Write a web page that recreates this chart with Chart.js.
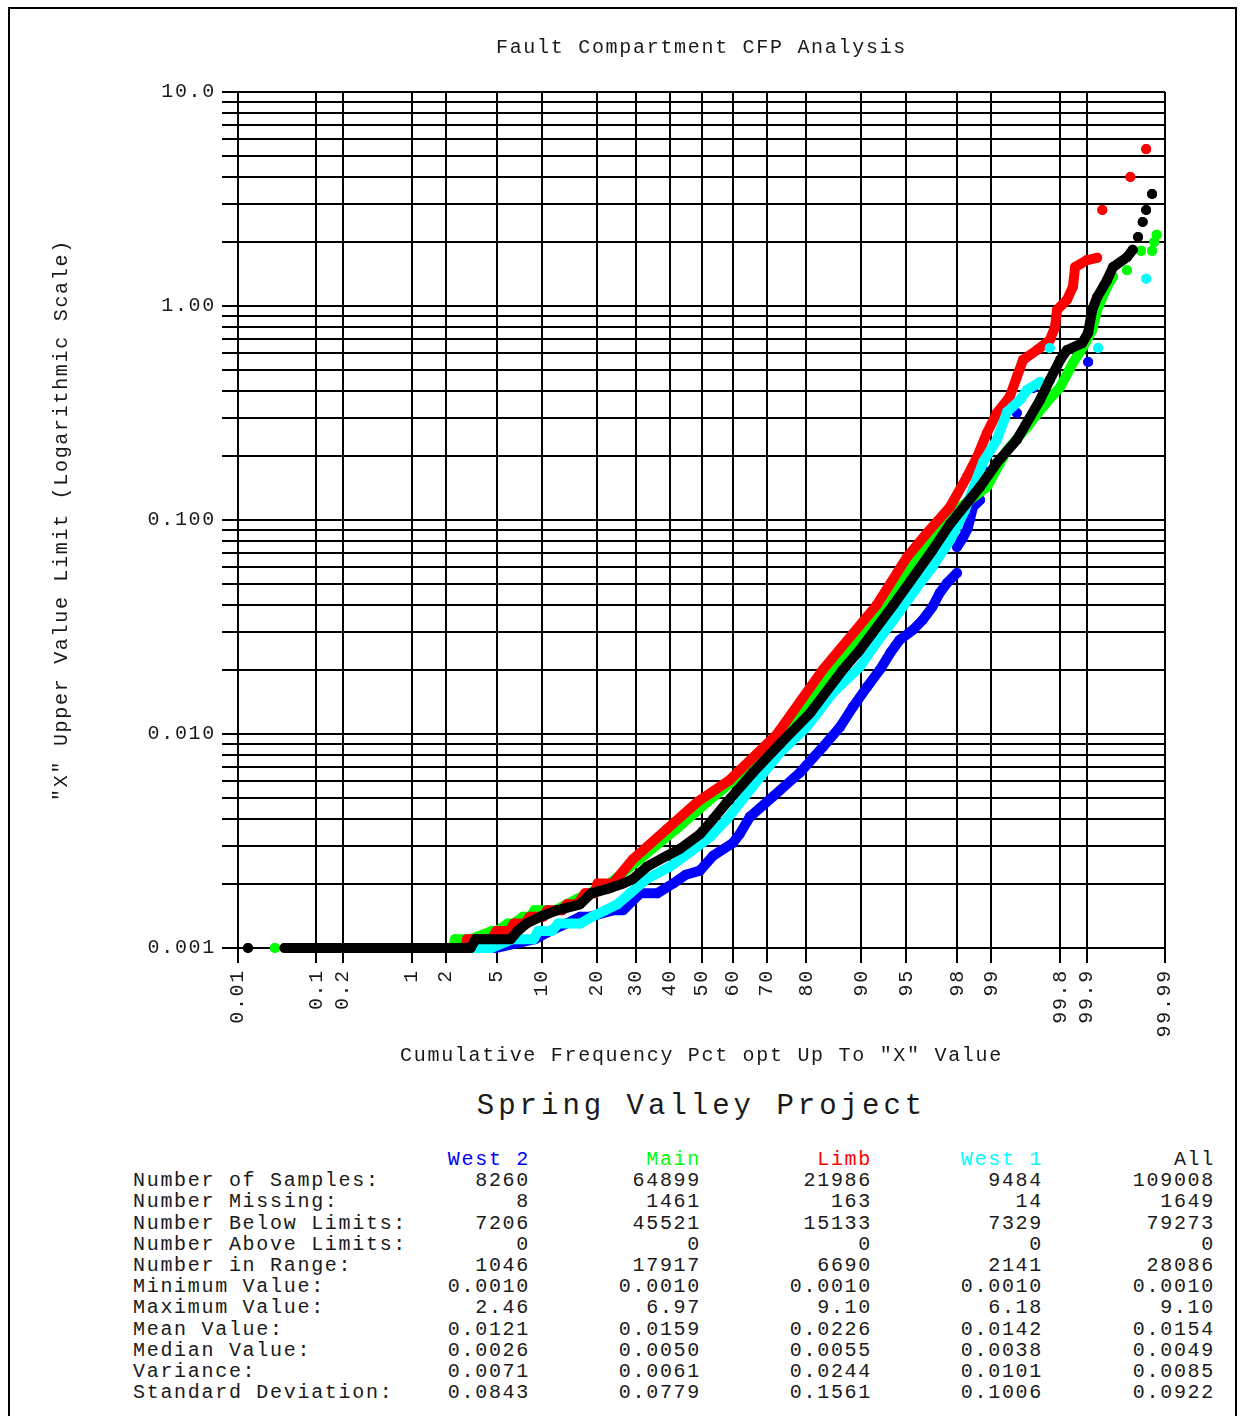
<!DOCTYPE html>
<html>
<head>
<meta charset="utf-8">
<title>Fault Compartment CFP Analysis</title>
<script src="https://cdn.jsdelivr.net/npm/chart.js@4.4.1/dist/chart.umd.min.js"></script>
<style>
  html, body { margin: 0; padding: 0; background: #fff; overflow: hidden; }
  body { width: 1243px; height: 1416px; position: relative;
         font-family: 'Liberation Mono', 'DejaVu Sans Mono', monospace; color: #1a1a1a; }
  #frame { position: absolute; left: 8px; top: 7px; width: 1225px; height: 1440px; border: 2px solid #000; }
  #cfp { position: absolute; left: 0; top: 0; }
  #project { position: absolute; left: 238px; width: 927px; top: 1089px; text-align: center;
             font-size: 29px; line-height: 35px; letter-spacing: 4px; white-space: pre; }
  .col { position: absolute; top: 1149px; font-size: 20px; line-height: 21.2px;
         letter-spacing: 1.7px; white-space: pre; }
  .num { text-align: right; width: 220px; }
</style>
</head>
<body>
<div id="frame"></div>
<canvas id="cfp" width="1243" height="1075"></canvas>
<div id="project">Spring Valley Project</div>
<div id="stats"></div>

<script>
// ── Data (x = cumulative frequency %, y = value; null = break in the trace) ──
const xTickPcts   = [0.01, 0.1, 0.2, 1, 2, 5, 10, 20, 30, 40, 50, 60, 70, 80, 90, 95, 98, 99, 99.8, 99.9, 99.99];
const xTickLabels = ['0.01', '0.1', '0.2', '1', '2', '5', '10', '20', '30', '40', '50', '60', '70', '80', '90', '95', '98', '99', '99.8', '99.9', '99.99'];
const yLabelValues = [0.001, 0.01, 0.1, 1, 10];
const yLabels      = ['0.001', '0.010', '0.100', '1.00', '10.0'];

const westTwoPts = [
  [0.07, 0.001], [4.9, 0.001], [9.1, 0.0011], [11.2, 0.0012], [13.9, 0.0013], [16.5, 0.0014],
  [18.5, 0.0014], [23.9, 0.0015], [26.4, 0.0015], [31.1, 0.0018], [36.1, 0.0018], [41.0, 0.0020],
  [45.0, 0.0022], [49.5, 0.0023], [53.7, 0.0027], [60.0, 0.0031], [62.0, 0.0034], [65.1, 0.0041],
  [71.7, 0.0051], [78.5, 0.0066], [83.5, 0.0087], [86.7, 0.0108], [88.8, 0.0134], [90.8, 0.0166],
  [92.4, 0.020], [93.5, 0.0239], [94.4, 0.0275], [95.5, 0.0306], [96.2, 0.0341], [96.8, 0.0392],
  [97.2, 0.0456], [97.56, 0.0508], [97.98, 0.0565], null,
  [97.98, 0.0748], [98.20, 0.0824], [98.37, 0.0918], [98.53, 0.115], [98.73, 0.124], null,
  [98.81, 0.171], null, [99.43, 0.316], null, [99.61, 0.414], null, [99.904, 0.547]
];
const mainPts = [
  [0.031, 0.001], null,
  [0.045, 0.001], [2.3, 0.001], [2.4, 0.0011], [3.2, 0.0011], [4.6, 0.0012], [5.0, 0.0012],
  [6.0, 0.0013], [6.6, 0.0013], [7.6, 0.0014], [8.5, 0.0014], [9.0, 0.0015], [12.0, 0.0015],
  [16.0, 0.0017], [23.0, 0.0020], [31.0, 0.0026], [42.0, 0.0036], [51.8, 0.0048], [64.0, 0.0068],
  [75.4, 0.010], [85.2, 0.020], [93.2, 0.040], [96.0, 0.070], [97.4, 0.10], [98.90, 0.143],
  [99.29, 0.212], [99.55, 0.272], [99.69, 0.337], [99.80, 0.418], [99.856, 0.542], [99.890, 0.643],
  [99.914, 0.773], [99.925, 0.958], [99.943, 1.23], [99.952, 1.37], null,
  [99.968, 1.47], null, [99.979, 1.81], null, [99.985, 1.81], null, [99.986, 1.99], null, [99.987, 2.15]
];
const limbPts = [
  [0.058, 0.001], [2.9, 0.001], [3.0, 0.0011], [4.6, 0.0011], [5.0, 0.0012], [6.2, 0.0012],
  [6.6, 0.0013], [7.8, 0.0013], [8.4, 0.0014], [10.2, 0.0014], [10.8, 0.0015], [13.2, 0.0015],
  [14.0, 0.0016], [16.0, 0.0016], [17.5, 0.0018], [19.5, 0.0018], [20.2, 0.0020], [23.8, 0.0020],
  [29.1, 0.0026], [39.1, 0.0036], [48.6, 0.0048], [59.0, 0.0061], [72.8, 0.010], [83.5, 0.020],
  [92.0, 0.040], [95.04, 0.0671], [96.48, 0.087], [97.69, 0.115], [98.34, 0.159], [98.65, 0.197],
  [98.90, 0.255], [99.11, 0.316], [99.33, 0.376], [99.43, 0.466], [99.506, 0.560], [99.645, 0.623],
  [99.74, 0.693], [99.772, 0.797], [99.783, 0.958], [99.832, 1.07], [99.856, 1.23], [99.864, 1.52],
  [99.901, 1.64], [99.925, 1.68], null,
  [99.935, 2.81], null, [99.971, 4.01], null, [99.982, 5.41]
];
const westOnePts = [
  [0.06, 0.001], [4.6, 0.001], [6.5, 0.0011], [8.9, 0.0011], [9.5, 0.0012], [11.5, 0.0012],
  [12.5, 0.0013], [16.5, 0.0013], [19.0, 0.0014], [22.0, 0.0015], [25.0, 0.0016], [28.3, 0.0018],
  [33.0, 0.0021], [40.0, 0.0024], [46.3, 0.0028], [52.7, 0.0033], [58.1, 0.0040], [66.0, 0.0057],
  [73.6, 0.0082], [80.1, 0.0108], [85.4, 0.0156], [89.8, 0.0206], [91.6, 0.0255], [93.8, 0.034],
  [95.5, 0.0456], [96.8, 0.0603], [97.7, 0.0806], [98.27, 0.111], [98.81, 0.187], [99.11, 0.237],
  [99.29, 0.320], [99.47, 0.364], [99.55, 0.405], [99.67, 0.442], null,
  [99.74, 0.637], null, [99.927, 0.637], null, [99.982, 1.34]
];
const allPts = [
  [0.0137, 0.001], null,
  [0.041, 0.001], [3.2, 0.001], [3.5, 0.0011], [6.3, 0.0011], [7.0, 0.0012], [8.0, 0.0013],
  [9.8, 0.0014], [12.3, 0.0015], [16.5, 0.0016], [18.8, 0.0018], [23.0, 0.0019], [26.5, 0.0020],
  [29.1, 0.0021], [33.1, 0.0024], [39.1, 0.0027], [43.1, 0.0029], [49.5, 0.0034], [53.7, 0.0040],
  [58.1, 0.0048], [66.0, 0.0066], [73.6, 0.0090], [80.8, 0.0125], [87.2, 0.020], [89.8, 0.0247],
  [93.8, 0.040], [96.8, 0.072], [97.7, 0.096], [98.73, 0.143], [99.11, 0.185], [99.43, 0.237],
  [99.67, 0.364], [99.74, 0.451], [99.80, 0.560], [99.832, 0.623], [99.887, 0.67], [99.904, 0.75],
  [99.914, 0.958], [99.925, 1.10], [99.943, 1.32], [99.952, 1.52], [99.968, 1.69], [99.973, 1.83], null,
  [99.977, 2.10], null, [99.980, 2.47], null, [99.982, 2.81], null, [99.985, 3.34]
];

// ── Statistics table ─────────────────────────────────────────
const statLabels = ['Number of Samples:', 'Number Missing:', 'Number Below Limits:', 'Number Above Limits:',
  'Number in Range:', 'Minimum Value:', 'Maximum Value:', 'Mean Value:', 'Median Value:', 'Variance:',
  'Standard Deviation:'];
const seriesNames  = ['West 2', 'Main', 'Limb', 'West 1', 'All'];
const seriesColors = ['#0000ff', '#00ff00', '#ff0000', '#00ffff', '#000000'];
const westTwoStats = ['8260', '8', '7206', '0', '1046', '0.0010', '2.46', '0.0121', '0.0026', '0.0071', '0.0843'];
const mainStats    = ['64899', '1461', '45521', '0', '17917', '0.0010', '6.97', '0.0159', '0.0050', '0.0061', '0.0779'];
const limbStats    = ['21986', '163', '15133', '0', '6690', '0.0010', '9.10', '0.0226', '0.0055', '0.0244', '0.1561'];
const westOneStats = ['9484', '14', '7329', '0', '2141', '0.0010', '6.18', '0.0142', '0.0038', '0.0101', '0.1006'];
const allStats     = ['109008', '1649', '79273', '0', '28086', '0.0010', '9.10', '0.0154', '0.0049', '0.0085', '0.0922'];

const statCols  = [westTwoStats, mainStats, limbStats, westOneStats, allStats];
const colRights = [530, 701, 872, 1043, 1215];

const stats = document.getElementById('stats');
const labelCol = document.createElement('div');
labelCol.className = 'col';
labelCol.style.left = '133px';
labelCol.textContent = '\n' + statLabels.join('\n');
stats.appendChild(labelCol);
statCols.forEach((vals, i) => {
  const col = document.createElement('div');
  col.className = 'col num';
  col.style.left = (colRights[i] - 220) + 'px';
  const head = document.createElement('span');
  head.style.color = seriesColors[i] === '#000000' ? '#1a1a1a' : seriesColors[i];
  head.textContent = seriesNames[i];
  col.appendChild(head);
  col.appendChild(document.createTextNode('\n' + vals.join('\n')));
  stats.appendChild(col);
});

// ── Probability (normal quantile) axis ───────────────────────
function probit(pct) {
  const p = pct / 100;
  const a = [-39.69683028665376, 220.9460984245205, -275.9285104469687, 138.3577518672690, -30.66479806614716, 2.506628277459239];
  const b = [-54.47609879822406, 161.5858368580409, -155.6989798598866, 66.80131188771972, -13.28068155288572];
  const c = [-0.007784894002430293, -0.3223964580411365, -2.400758277161838, -2.549732539343734, 4.374664141464968, 2.938163982698783];
  const d = [0.007784695709041462, 0.3224671290700398, 2.445134137142996, 3.754408661907416];
  const tail = q => (((((c[0]*q + c[1])*q + c[2])*q + c[3])*q + c[4])*q + c[5]) /
                    ((((d[0]*q + d[1])*q + d[2])*q + d[3])*q + 1);
  if (p < 0.02425) return tail(Math.sqrt(-2 * Math.log(p)));
  if (p > 1 - 0.02425) return -tail(Math.sqrt(-2 * Math.log(1 - p)));
  const q = p - 0.5, r = q * q;
  return (((((a[0]*r + a[1])*r + a[2])*r + a[3])*r + a[4])*r + a[5]) * q /
         (((((b[0]*r + b[1])*r + b[2])*r + b[3])*r + b[4])*r + 1);
}

class ProbitScale extends Chart.LinearScale {
  determineDataLimits() {
    this.min = probit(this.options.min);
    this.max = probit(this.options.max);
  }
  buildTicks() {
    return xTickPcts.map(v => ({ value: v }));
  }
  getPixelForValue(value) {
    if (value === null || value === undefined || isNaN(value)) return NaN;
    return super.getPixelForValue(probit(value));
  }
}
ProbitScale.id = 'probit';
ProbitScale.defaults = {};
Chart.register(ProbitScale);

// ── Chart setup ──────────────────────────────────────────────
const FONT = "'Liberation Mono', 'DejaVu Sans Mono', monospace";
const INK = '#1a1a1a';

const yTickValues = [];
[0.001, 0.01, 0.1, 1].forEach(dec => {
  for (let k = 1; k <= 9; k++) yTickValues.push(+(k * dec).toPrecision(3));
});
yTickValues.push(10);

const toXY = pts => pts.map((p, i) => p ? { x: p[0], y: p[1] } : { x: pts[i - 1][0], y: null });

const makeSet = (label, pts, color, order) => ({
  label,
  data: toXY(pts),
  showLine: true,
  spanGaps: false,
  borderColor: color,
  backgroundColor: color,
  borderWidth: 10,
  borderCapStyle: 'round',
  borderJoinStyle: 'round',
  pointRadius: 5,
  pointBorderWidth: 0,
  pointHoverRadius: 0,
  pointHitRadius: 0,
  clip: false,
  order,
});

const letterSpacing = {
  id: 'letterSpacing',
  beforeDraw(chart) { chart.ctx.letterSpacing = '1.7px'; },
};

const gridStyle = { color: '#000', lineWidth: 2, tickColor: '#000', tickWidth: 2 };

new Chart(document.getElementById('cfp'), {
  type: 'scatter',
  data: {
    datasets: [
      makeSet('West 2', westTwoPts, seriesColors[0], 4),
      makeSet('Main', mainPts, seriesColors[1], 3),
      makeSet('Limb', limbPts, seriesColors[2], 2),
      makeSet('West 1', westOnePts, seriesColors[3], 1),
      makeSet('All', allPts, seriesColors[4], 0),
    ],
  },
  options: {
    responsive: false,
    animation: false,
    events: [],
    layout: { padding: { left: 50, right: 78, top: 0, bottom: 0 } },
    scales: {
      x: {
        type: 'probit',
        min: 0.01,
        max: 99.99,
        afterFit: s => { s.height = 127; },
        ticks: {
          autoSkip: false, minRotation: 90, maxRotation: 90, padding: 6, color: INK,
          font: { family: FONT, size: 20 },
          callback: (v, i) => xTickLabels[i],
        },
        grid: { ...gridStyle, tickLength: 15 },
        border: { color: '#000', width: 2 },
        title: {
          display: true, text: 'Cumulative Frequency Pct opt Up To "X" Value', color: INK,
          font: { family: FONT, size: 20 }, padding: { top: 0, bottom: 7 },
        },
      },
      y: {
        type: 'logarithmic',
        min: 0.001,
        max: 10,
        afterBuildTicks: s => { s.ticks = yTickValues.map(v => ({ value: v })); },
        afterFit: s => { s.width = 188; },
        ticks: {
          autoSkip: false, padding: 6, color: INK,
          font: { family: FONT, size: 20 },
          callback: v => {
            const i = yLabelValues.findIndex(m => Math.abs(v - m) < m * 1e-6);
            return i >= 0 ? yLabels[i] : '';
          },
        },
        grid: { ...gridStyle, tickLength: 16 },
        border: { color: '#000', width: 2 },
        title: {
          display: true, text: '"X" Upper Value Limit (Logarithmic Scale)', color: INK,
          font: { family: FONT, size: 20 }, padding: { top: 0, bottom: 0 },
        },
      },
    },
    plugins: {
      legend: { display: false },
      tooltip: { enabled: false },
      title: {
        display: true, fullSize: false, text: 'Fault Compartment CFP Analysis', color: INK,
        font: { family: FONT, size: 20, weight: 'normal' }, padding: { top: 36, bottom: 32 },
      },
    },
  },
  plugins: [letterSpacing],
});
</script>
</body>
</html>
